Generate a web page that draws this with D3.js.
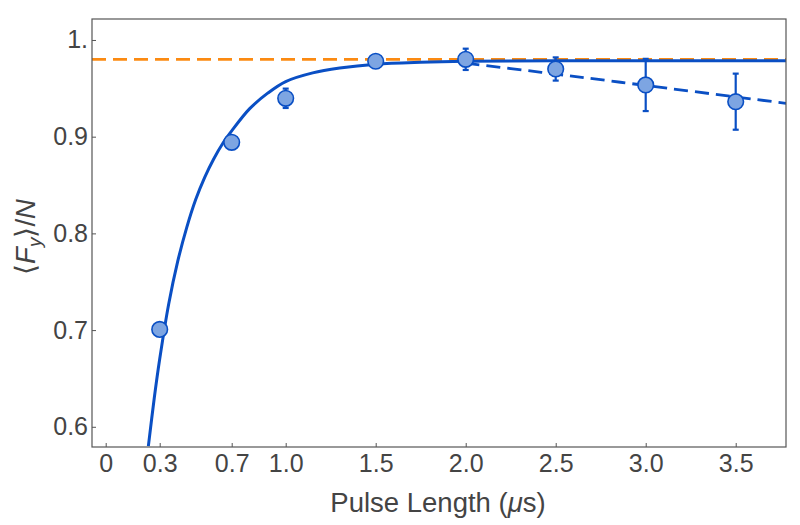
<!DOCTYPE html>
<html>
<head>
<meta charset="utf-8">
<script src="https://cdn.jsdelivr.net/npm/d3@7"></script>
<style>
  body { margin: 0; background: #fff; }
  svg { font-family: "Liberation Sans", Arial, sans-serif; }
  .axis text { fill: #444; font-size: 25px; }
  .axis path, .axis line { stroke: #555; }
</style>
</head>
<body>
<svg width="800" height="525"></svg>
<script>
// measured points
var pulse = [0.3, 0.7, 1.0, 1.5, 2.0, 2.5, 3.0, 3.5];
var fy = [0.7007, 0.8942, 0.9397, 0.978, 0.980, 0.970, 0.9535, 0.9362];
var fyErr = [0.004, 0.004, 0.010, 0.004, 0.011, 0.012, 0.027, 0.029];

// fitted curve
var fitT = [0.237, 0.27, 0.3, 0.35, 0.4, 0.45, 0.5, 0.55, 0.6, 0.65, 0.7, 0.8, 0.9, 1.0, 1.15, 1.3, 1.5, 1.75, 2.0, 2.5, 3.78];
var fitV = [0.580, 0.630, 0.670, 0.727, 0.771, 0.806, 0.835, 0.858, 0.877, 0.893, 0.906, 0.929, 0.945, 0.957, 0.966, 0.971, 0.975, 0.977, 0.978, 0.9785, 0.9785];

// decay line (dashed)
var decayT = [2.0, 2.42, 2.86, 3.78];
var decayV = [0.976, 0.9666, 0.9563, 0.9345];

var limitV = 0.980;

var xTicks = [0, 0.3, 0.7, 1.0, 1.5, 2.0, 2.5, 3.0, 3.5];
var xTickLabels = ["0", "0.3", "0.7", "1.0", "1.5", "2.0", "2.5", "3.0", "3.5"];
var yTicks = [0.6, 0.7, 0.8, 0.9, 1.0];
var yTickLabels = ["0.6", "0.7", "0.8", "0.9", "1."];

var blue = "#0a4fc4", fillBlue = "#7da5e2", orange = "#fb8a12";

var svg = d3.select("svg");
var pLeft = 92, pRight = 786, pTop = 19, pBottom = 447;

var x = d3.scaleLinear().domain([-0.0761, 3.7794]).range([pLeft, pRight]);
var y = d3.scaleLinear().domain([0.5791, 1.0217]).range([pBottom, pTop]);

svg.append("clipPath").attr("id", "plotclip")
  .append("rect").attr("x", pLeft).attr("y", pTop)
  .attr("width", pRight - pLeft).attr("height", pBottom - pTop);

svg.append("g").attr("class", "axis")
  .attr("transform", "translate(0," + pBottom + ")")
  .call(d3.axisBottom(x).tickValues(xTicks).tickSize(-4).tickPadding(7)
    .tickFormat(function(d, i) { return xTickLabels[i]; }))
  .call(function(g) { g.select(".domain").remove(); });

svg.append("g").attr("class", "axis")
  .attr("transform", "translate(" + pLeft + ",0)")
  .call(d3.axisLeft(y).tickValues(yTicks).tickSize(-4).tickPadding(4)
    .tickFormat(function(d, i) { return yTickLabels[i]; }))
  .call(function(g) { g.select(".domain").remove(); });

var plot = svg.append("g").attr("clip-path", "url(#plotclip)");

plot.append("line")
  .attr("x1", pLeft).attr("x2", pRight)
  .attr("y1", y(limitV)).attr("y2", y(limitV))
  .attr("stroke", orange).attr("stroke-width", 2.8)
  .attr("stroke-dasharray", "14,7");

var line = d3.line()
  .x(function(d) { return x(d[0]); })
  .y(function(d) { return y(d[1]); })
  .curve(d3.curveCatmullRom.alpha(0.5));

plot.append("path")
  .datum(fitT.map(function(t, i) { return [t, fitV[i]]; }))
  .attr("d", line)
  .attr("fill", "none").attr("stroke", blue).attr("stroke-width", 3);

plot.append("path")
  .datum(decayT.map(function(t, i) { return [t, decayV[i]]; }))
  .attr("d", line)
  .attr("fill", "none").attr("stroke", blue).attr("stroke-width", 2.8)
  .attr("stroke-dasharray", "14,7");

var pts = pulse.map(function(t, i) { return {t: t, v: fy[i], e: fyErr[i]}; });

var eb = plot.append("g").attr("stroke", blue).attr("stroke-width", 2.2);
eb.selectAll("line.bar").data(pts).enter().append("line")
  .attr("x1", function(d) { return x(d.t); }).attr("x2", function(d) { return x(d.t); })
  .attr("y1", function(d) { return y(d.v - d.e); }).attr("y2", function(d) { return y(d.v + d.e); });
eb.selectAll("line.capt").data(pts).enter().append("line")
  .attr("x1", function(d) { return x(d.t) - 3; }).attr("x2", function(d) { return x(d.t) + 3; })
  .attr("y1", function(d) { return y(d.v + d.e); }).attr("y2", function(d) { return y(d.v + d.e); });
eb.selectAll("line.capb").data(pts).enter().append("line")
  .attr("x1", function(d) { return x(d.t) - 3; }).attr("x2", function(d) { return x(d.t) + 3; })
  .attr("y1", function(d) { return y(d.v - d.e); }).attr("y2", function(d) { return y(d.v - d.e); });

plot.selectAll("circle").data(pts).enter().append("circle")
  .attr("cx", function(d) { return x(d.t); })
  .attr("cy", function(d) { return y(d.v); })
  .attr("r", 7.8)
  .attr("fill", fillBlue).attr("stroke", blue).attr("stroke-width", 1.6);

// frame
svg.append("rect")
  .attr("x", pLeft).attr("y", pTop)
  .attr("width", pRight - pLeft).attr("height", pBottom - pTop)
  .attr("fill", "none").attr("stroke", "#555").attr("stroke-width", 1.2);

// axis titles
svg.append("text")
  .attr("x", 438).attr("y", 512)
  .attr("text-anchor", "middle")
  .attr("fill", "#444").attr("font-size", 27.5)
  .html('Pulse Length (<tspan font-style="italic">μ</tspan>s)');

var yl = svg.append("text")
  .attr("transform", "translate(35,237) rotate(-90)")
  .attr("text-anchor", "middle")
  .attr("fill", "#444").attr("font-size", 27.5);
yl.append("tspan").text("⟨");
yl.append("tspan").attr("font-style", "italic").text("F");
yl.append("tspan").attr("font-style", "italic").attr("font-size", 19).attr("dy", 6).text("y");
yl.append("tspan").attr("dy", -6).text("⟩/");
yl.append("tspan").attr("font-style", "italic").text("N");
</script>
</body>
</html>
